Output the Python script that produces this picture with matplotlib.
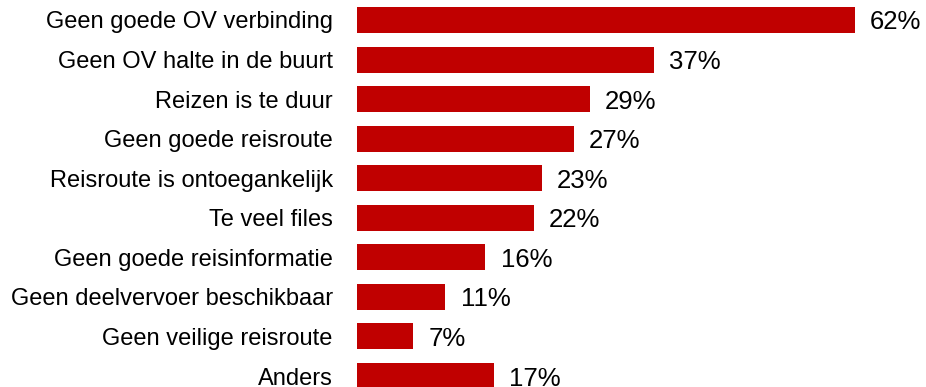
import matplotlib
matplotlib.use("Agg")
import matplotlib.pyplot as plt

categories = [
    "Geen goede OV verbinding",
    "Geen OV halte in de buurt",
    "Reizen is te duur",
    "Geen goede reisroute",
    "Reisroute is ontoegankelijk",
    "Te veel files",
    "Geen goede reisinformatie",
    "Geen deelvervoer beschikbaar",
    "Geen veilige reisroute",
    "Anders",
]
values = [62, 37, 29, 27, 23, 22, 16, 11, 7, 17]
value_labels = [f"{v}%" for v in values]

plt.rcParams['font.family'] = ['Liberation Sans', 'DejaVu Sans']

W, H = 926, 387
fig = plt.figure(figsize=(W / 100, H / 100), dpi=100)
ax = fig.add_axes([357 / W, 0, 1 - 357 / W, 1])

ypos = list(range(len(categories)))
ax.barh(ypos, values, height=0.66, color="#C00000")
ax.set_xlim(0, 569 / 8.03)
ax.set_ylim(9 + 11 / 39.56, -20 / 39.56)

for y, v, lab in zip(ypos, values, value_labels):
    ax.annotate(lab, (v, y), xytext=(11, -1.8), textcoords="offset points",
                ha="left", va="center", fontsize=18.5, color="black")

ax.set_yticks(ypos)
ax.set_yticklabels(categories, fontsize=17)
ax.tick_params(axis="y", length=0, pad=17.5)
ax.set_xticks([])
for s in ax.spines.values():
    s.set_visible(False)

fig.savefig("out.png", dpi=100)
